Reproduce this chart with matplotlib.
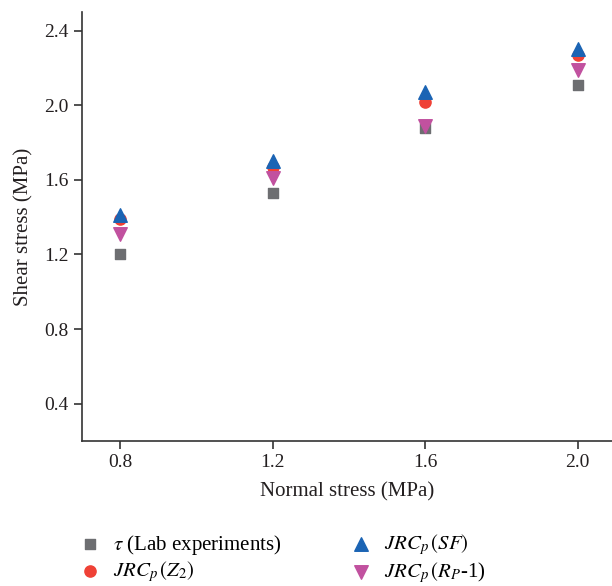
import matplotlib
matplotlib.use("Agg")
import matplotlib.pyplot as plt

plt.rcParams['font.family'] = ['Liberation Serif', 'DejaVu Serif']
plt.rcParams['mathtext.fontset'] = 'stix'

normal_stress = [0.8, 1.2, 1.6, 2.0]
tau_lab = [1.20, 1.53, 1.88, 2.11]
jrc_z2 = [1.39, 1.67, 2.02, 2.27]
jrc_sf = [1.41, 1.70, 2.07, 2.30]
jrc_rp = [1.31, 1.61, 1.89, 2.19]
xticks = [0.8, 1.2, 1.6, 2.0]
yticks = [0.4, 0.8, 1.2, 1.6, 2.0, 2.4]

fig = plt.figure(figsize=(6.12, 5.86), dpi=100)
ax = fig.add_axes([0.134, 0.2474, 0.866, 0.7321])

h1 = ax.scatter(normal_stress, tau_lab, marker='s', s=60, color='#6d6e71', label=r'$\tau$ (Lab experiments)', zorder=2)
h2 = ax.scatter(normal_stress, jrc_z2, marker='o', s=65, color='#ef4136', label=r'$JRC_p\,(Z_2)$', zorder=3)
h3 = ax.scatter(normal_stress, jrc_sf, marker='^', s=95, color='#1b64b4', label=r'$JRC_p\,(SF)$', zorder=4)
h4 = ax.scatter(normal_stress, jrc_rp, marker='v', s=95, color='#c1519f', label=r'$JRC_p\,(R_P$-1)', zorder=5)

ax.set_xlim(0.7, 2.09)
ax.set_ylim(0.2, 2.5)
ax.set_xticks(xticks)
ax.set_xticklabels([f"{v:.1f}" for v in xticks])
ax.set_yticks(yticks)
ax.set_yticklabels([f"{v:.1f}" for v in yticks])
ax.spines['top'].set_visible(False)
ax.spines['right'].set_visible(False)
for s in ['left', 'bottom']:
    ax.spines[s].set_color('#333333')
    ax.spines[s].set_linewidth(1.2)
ax.tick_params(direction='out', length=6, width=1.2, color='#333333', labelsize=14, labelcolor='#231f20')

ax.set_xlabel('Normal stress (MPa)', fontsize=15, color='#231f20', labelpad=8)
ax.set_ylabel('Shear stress (MPa)', fontsize=15, color='#231f20', labelpad=8)

fig.legend(handles=[h1, h2, h3, h4], loc='lower left', bbox_to_anchor=(0.10, -0.03),
           ncol=2, frameon=False, fontsize=15, columnspacing=3.3, handletextpad=0.6,
           labelspacing=0.12, handlelength=1.0)

fig.savefig('out.png', dpi=100)
